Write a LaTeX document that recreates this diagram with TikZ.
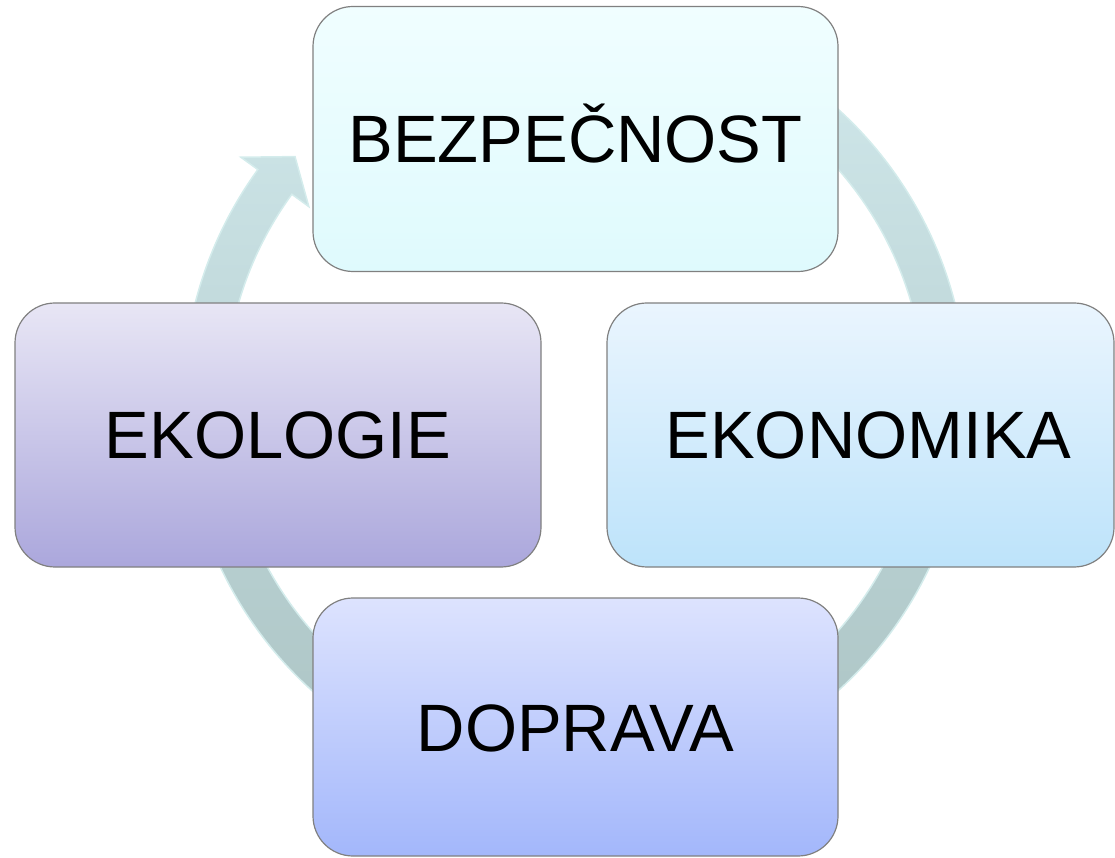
\documentclass[tikz,border=0pt]{standalone}
\usepackage{fontspec}
\setmainfont{Liberation Sans}
\usetikzlibrary{calc}

\definecolor{ringtop}{RGB}{208,232,235}
\definecolor{ringmid}{RGB}{198,223,226}
\definecolor{ringbot}{RGB}{168,192,192}
\definecolor{ringrim}{RGB}{212,236,236}
\definecolor{boxline}{RGB}{128,128,128}

\tikzset{
	cyclebox/.style={draw=boxline, line width=1.2pt, rounded corners=40pt,
		inner sep=0pt, minimum width=525pt, minimum height=264pt,
		text height=48pt, text depth=0pt,
		font=\fontsize{67}{80}\selectfont},
	ringarrow/.style={draw=ringrim, line width=1.5pt,
		top color=ringtop, middle color=ringmid, bottom color=ringbot}
}

\begin{document}
\begin{tikzpicture}[x=1pt, y=1pt]
			%%%%% START %%%%%
			
			\useasboundingbox (0, 0) rectangle (1115, 857);
			
			% ring with its head at the top left
			\coordinate (c) at (575, 457);
			\shadedraw[ringarrow] ($(c)+(70:392pt)$) arc[start angle=70, end angle=-216, radius=392pt]
				-- ($(c)+(144:413pt)$) -- ($(c)+(139:371pt)$) -- ($(c)+(144:329pt)$) -- ($(c)+(144:350pt)$)
				arc[start angle=-216, end angle=70, radius=350pt] -- cycle;
			
			% the four boxes
			\node[cyclebox, minimum height=265pt, top color={rgb,255:red,240;green,254;blue,255}, bottom color={rgb,255:red,223;green,250;blue,253}]
				(bez) at (575.5, 718) {BEZPEČNOST};
			\node[cyclebox, minimum width=507pt, top color={rgb,255:red,234;green,245;blue,254}, bottom color={rgb,255:red,189;green,227;blue,250}]
				(eko) at (860.5, 422) {\hspace*{16pt}EKONOMIKA};
			\node[cyclebox, minimum height=258pt, top color={rgb,255:red,221;green,227;blue,254}, bottom color={rgb,255:red,163;green,183;blue,251}]
				(dop) at (575.5, 130) {DOPRAVA};
			\node[cyclebox, minimum width=526pt, top color={rgb,255:red,232;green,230;blue,245}, bottom color={rgb,255:red,171;green,167;blue,220}]
				(ekol) at (278, 422) {EKOLOGIE};
			
			%%%%% END %%%%%
		\end{tikzpicture}
\end{document}
